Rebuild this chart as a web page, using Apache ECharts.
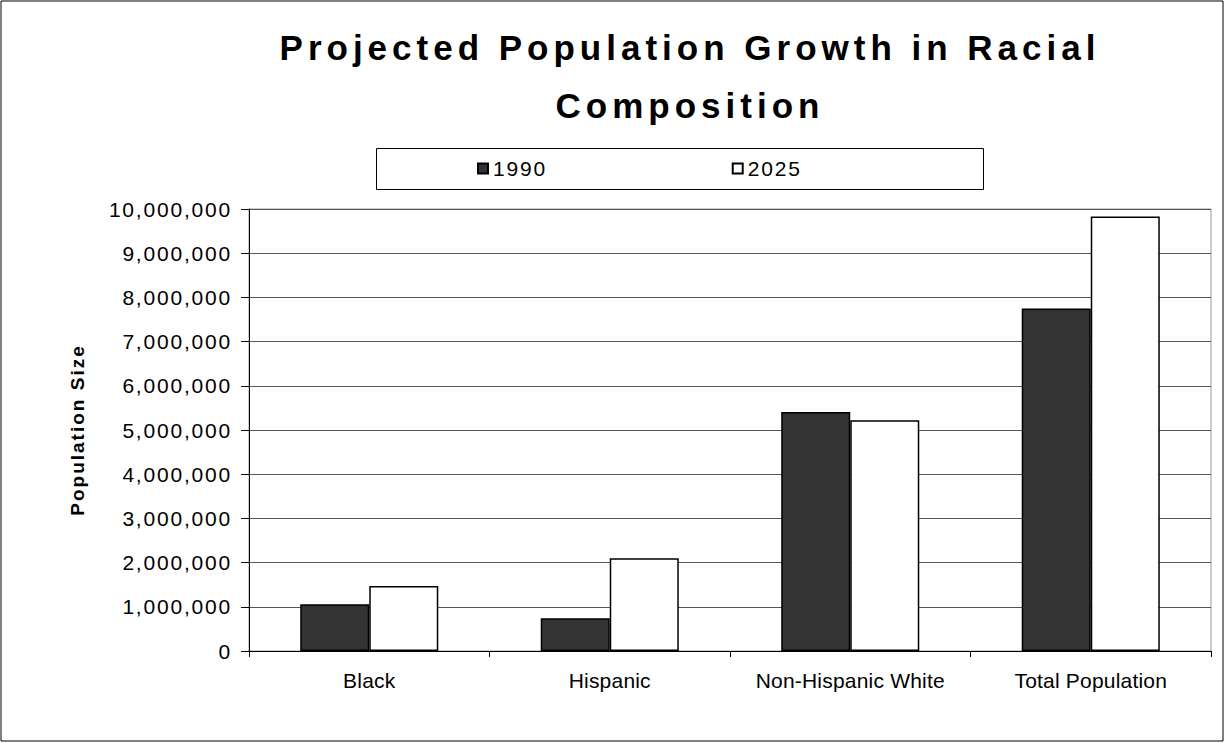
<!DOCTYPE html>
<html>
<head>
<meta charset="utf-8">
<script src="https://cdn.jsdelivr.net/npm/echarts@6/dist/echarts.min.js"></script>
<style>
  html, body { margin: 0; padding: 0; background: #fff; }
  #chart { width: 1225px; height: 743px; }
  /* tracking for the chart's lettering */
  #chart text[style*="35px"] { letter-spacing: 5px; }
  #chart text[style*="21px"] { letter-spacing: 1.8px; }
  #chart text[style*="21px"][text-anchor="middle"] { letter-spacing: 0.2px; }
  #chart text[style*="19px"] { letter-spacing: 2px; }
</style>
</head>
<body>
<div id="chart"></div>
<script>
// Population groups and projected sizes
const categories = ['Black', 'Hispanic', 'Non-Hispanic White', 'Total Population'];
const seriesNames = ['1990', '2025'];
const pop1990 = [1060000, 740000, 5410000, 7750000];
const pop2025 = [1470000, 2100000, 5220000, 9830000];
const yTicks = { min: 0, max: 10000000, interval: 1000000 };

const FONT = '"Liberation Sans", Arial, sans-serif';

const chart = echarts.init(document.getElementById('chart'), null, { renderer: 'svg' });

const fmt = v => v.toString().replace(/\B(?=(\d{3})+(?!\d))/g, ',');

chart.setOption({
  animation: false,
  backgroundColor: '#fff',
  textStyle: { fontFamily: FONT },
  title: {
    text: 'Projected Population Growth in Racial\nComposition',
    left: 690,
    textAlign: 'center',
    top: 18,
    padding: 0,
    textStyle: { fontFamily: FONT, fontSize: 35, fontWeight: 'bold', color: '#000', lineHeight: 58 }
  },
  legend: {
    data: seriesNames,
    left: 477,
    top: 148,
    orient: 'horizontal',
    icon: 'rect',
    itemWidth: 10,
    itemHeight: 10,
    itemGap: 192,
    padding: [10, 0, 10, 0],
    textStyle: { fontFamily: FONT, fontSize: 21, color: '#000' }
  },
  graphic: [
    {
      type: 'rect',
      shape: { x: 1, y: 1, width: 1222, height: 740 },
      style: { fill: 'none', stroke: '#000', lineWidth: 1 },
      silent: true
    },
    {
      type: 'rect',
      shape: { x: 376.5, y: 148.5, width: 607, height: 41 },
      style: { fill: 'none', stroke: '#000', lineWidth: 1 },
      silent: true
    }
  ],
  grid: {
    left: 249, right: 14, top: 209, bottom: 92,
    show: true, borderColor: '#999', borderWidth: 1, backgroundColor: 'transparent'
  },
  xAxis: {
    type: 'category',
    data: categories,
    axisLine: { lineStyle: { color: '#000', width: 1 } },
    axisTick: { show: true, alignWithLabel: false, length: 6, inside: false, lineStyle: { color: '#000' } },
    axisLabel: { fontFamily: FONT, fontSize: 21, color: '#000', margin: 19, interval: 0, hideOverlap: false }
  },
  yAxis: {
    type: 'value',
    min: yTicks.min,
    max: yTicks.max,
    interval: yTicks.interval,
    name: 'Population Size',
    nameLocation: 'middle',
    nameGap: 162,
    nameTextStyle: { fontFamily: FONT, fontSize: 19, fontWeight: 'bold', color: '#000' },
    axisLine: { show: true, lineStyle: { color: '#000', width: 1 } },
    axisTick: { show: true, length: 8, lineStyle: { color: '#000' } },
    axisLabel: { fontFamily: FONT, fontSize: 21, color: '#000', margin: 17, formatter: fmt },
    splitLine: { show: true, lineStyle: { color: '#555', width: 1 } }
  },
  series: [
    {
      name: seriesNames[0],
      type: 'bar',
      data: pop1990,
      barGap: '0%',
      barCategoryGap: '42.6%',
      itemStyle: { color: '#333333', borderColor: '#000', borderWidth: 1.5 }
    },
    {
      name: seriesNames[1],
      type: 'bar',
      data: pop2025,
      barGap: '0%',
      barCategoryGap: '42.6%',
      itemStyle: { color: '#ffffff', borderColor: '#000', borderWidth: 1.5 }
    }
  ]
});
</script>
</body>
</html>
